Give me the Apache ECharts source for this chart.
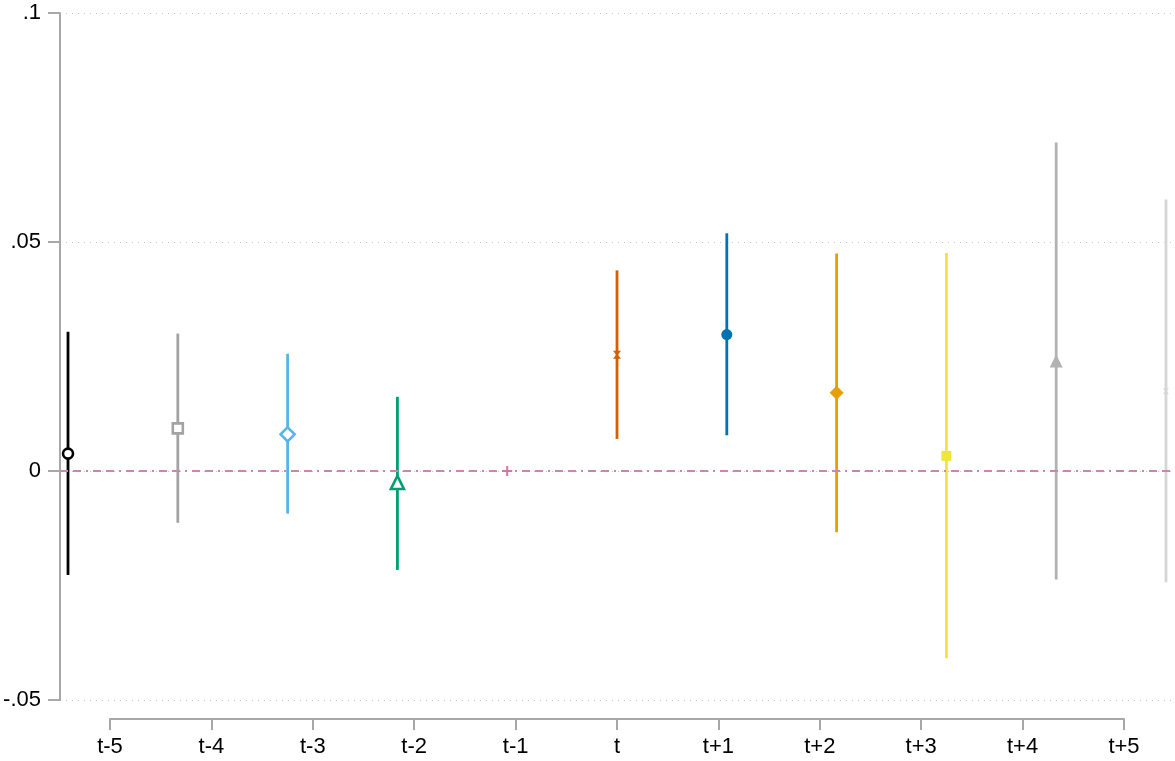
<!DOCTYPE html>
<html>
<head>
<meta charset="utf-8">
<script src="https://cdn.jsdelivr.net/npm/echarts@6/dist/echarts.min.js"></script>
<style>
  html, body { margin: 0; padding: 0; background: #fff; }
  #chart { width: 1175px; height: 761px; }
</style>
</head>
<body>
<div id="chart"></div>
<script>
// Event-study coefficients with 95% confidence intervals
const periods = ['t-5', 't-4', 't-3', 't-2', 't-1', 't', 't+1', 't+2', 't+3', 't+4', 't+5'];
const coef  = [0.0038, 0.0093, 0.0080, -0.0025, 0, 0.0254, 0.0298, 0.0171, 0.0033, 0.0240, 0.0174];
const ciLow = [-0.0227, -0.0113, -0.0093, -0.0216, null, 0.0070, 0.0078, -0.0134, -0.0409, -0.0237, -0.0243];
const ciHigh = [0.0304, 0.0300, 0.0256, 0.0162, null, 0.0438, 0.0519, 0.0475, 0.0476, 0.0717, 0.0593];

const yTickValues = [-0.05, 0, 0.05, 0.1];
const yTickLabels = ['-.05', '0', '.05', '.1'];

// Marker styling per period
const colors = ['#000000', '#a3a3a3', '#56b4e9', '#009e73', '#cc79a7', '#d55e00',
                '#0072b2', '#e69f00', '#f0e442', '#b2b2b2', '#d6d6d6'];
const plusPath = 'path://M4,0 L6,0 L6,4 L10,4 L10,6 L6,6 L6,10 L4,10 L4,6 L0,6 L0,4 L4,4 Z';
const bowtiePath = 'path://M0,0 L10,0 L6,5 L10,10 L0,10 L4,5 Z';
const markers = [
  { symbol: 'circle',   size: 10, hollow: true },
  { symbol: 'rect',     size: 10, hollow: true },
  { symbol: 'diamond',  size: 14, hollow: true },
  { symbol: 'triangle', size: 13, hollow: true },
  { symbol: plusPath,   size: 10, hollow: false },
  { symbol: bowtiePath, size: 8,  hollow: false },
  { symbol: 'circle',   size: 11, hollow: false },
  { symbol: 'diamond',  size: 14, hollow: false },
  { symbol: 'rect',     size: 10, hollow: false },
  { symbol: 'triangle', size: 13, hollow: false },
  { symbol: bowtiePath, size: 6,  hollow: false }
];

const axisGray = '#a8a8a8';
const font = '"Liberation Sans", Arial, Helvetica, sans-serif';

const ciData = [];
periods.forEach((p, i) => {
  if (ciLow[i] !== null) ciData.push([i, ciLow[i], ciHigh[i], i]);
});

const pointData = periods.map((p, i) => {
  const m = markers[i];
  return {
    value: [i, coef[i]],
    symbol: m.symbol,
    symbolSize: m.size,
    itemStyle: m.hollow
      ? { color: '#ffffff', borderColor: colors[i], borderWidth: 2.6, opacity: 1 }
      : { color: colors[i], borderWidth: 0, opacity: 1 }
  };
});

const chart = echarts.init(document.getElementById('chart'), null, { renderer: 'canvas' });

chart.setOption({
  animation: false,
  backgroundColor: '#ffffff',
  grid: [
    { left: 60, right: 0, top: 13, bottom: 61 },
    { left: 110, right: 51, top: 700, bottom: 42 }
  ],
  xAxis: [
    { gridIndex: 0, type: 'value', min: -0.073, max: 10.082, show: false },
    {
      gridIndex: 1, type: 'value', position: 'bottom', min: 0, max: 10, interval: 1,
      axisLine: { show: true, onZero: false, lineStyle: { color: axisGray, width: 2 } },
      axisTick: { show: true, length: 11, lineStyle: { color: axisGray, width: 2 } },
      axisLabel: {
        margin: 17, color: '#000', fontSize: 22, fontFamily: font,
        formatter: v => periods[Math.round(v)]
      },
      splitLine: { show: false }
    }
  ],
  yAxis: [
    {
      gridIndex: 0, type: 'value', min: -0.05, max: 0.1, interval: 0.05,
      axisLine: { show: true, onZero: false, lineStyle: { color: axisGray, width: 2 } },
      axisTick: { show: true, length: 12, lineStyle: { color: axisGray, width: 2 } },
      axisLabel: {
        margin: 19, color: '#000', fontSize: 22, fontFamily: font,
        formatter: v => {
          const k = yTickValues.findIndex(t => Math.abs(t - v) < 1e-9);
          return k >= 0 ? yTickLabels[k] : '';
        }
      },
      splitLine: {
        show: true,
        lineStyle: { color: '#c4c4c4', width: 1, type: [1, 5] }
      }
    },
    { gridIndex: 1, type: 'value', show: false }
  ],
  series: [
    {
      type: 'custom',
      xAxisIndex: 0, yAxisIndex: 0,
      data: ciData,
      z: 2,
      renderItem: (params, api) => {
        const x = api.value(0);
        const lo = api.coord([x, api.value(1)]);
        const hi = api.coord([x, api.value(2)]);
        const c = colors[api.value(3)];
        return {
          type: 'line',
          shape: { x1: lo[0], y1: lo[1], x2: hi[0], y2: hi[1] },
          style: { stroke: c, lineWidth: 2.8 }
        };
      }
    },
    {
      type: 'scatter',
      xAxisIndex: 0, yAxisIndex: 0,
      data: pointData,
      z: 4,
      markLine: {
        silent: true,
        symbol: ['none', 'none'],
        label: { show: false },
        z: 3,
        lineStyle: { color: '#d183b0', width: 2.2, opacity: 1, type: [8, 5, 8, 5, 2, 5] },
        data: [{ yAxis: 0 }]
      }
    }
  ]
});
</script>
</body>
</html>
